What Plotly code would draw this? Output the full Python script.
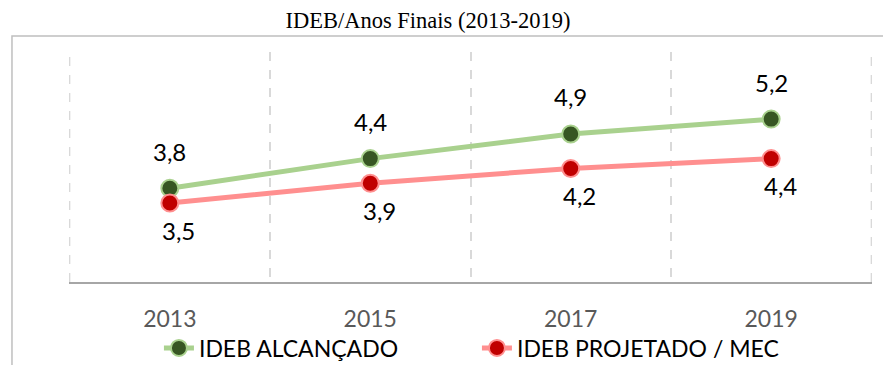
import plotly.graph_objects as go

# IDEB, anos finais: valores alcançados x metas projetadas pelo MEC
anos = ["2013", "2015", "2017", "2019"]
ideb_alcancado = [3.8, 4.4, 4.9, 5.2]
ideb_projetado = [3.5, 3.9, 4.2, 4.4]
serie_alcancado = "IDEB ALCANÇADO"
serie_projetado = "IDEB PROJETADO / MEC"
titulo = "IDEB/Anos Finais (2013-2019)"

VERDE_LINHA = "#a9d18e"
VERDE_MARCA = "#375623"
VERMELHO_LINHA = "#ff8f8f"
VERMELHO_MARCA = "#c00000"
GRADE = "#d9d9d9"
FONTE = "Lato"


def rotulo(v):
    return f"{v:.1f}".replace(".", ",")


fig = go.Figure()

fig.add_trace(go.Scatter(
    x=anos, y=ideb_alcancado, name=serie_alcancado, mode="lines+markers",
    line=dict(color=VERDE_LINHA, width=5),
    marker=dict(size=17, color=VERDE_MARCA, line=dict(color=VERDE_LINHA, width=2)),
    hoverinfo="x+y",
))
fig.add_trace(go.Scatter(
    x=anos, y=ideb_projetado, name=serie_projetado, mode="lines+markers",
    line=dict(color=VERMELHO_LINHA, width=5),
    marker=dict(size=17, color=VERMELHO_MARCA, line=dict(color=VERMELHO_LINHA, width=2)),
    hoverinfo="x+y",
))

# rótulos de valor: alcançado acima do ponto, projetado abaixo
# (x pela posição da categoria, pois os anos parecem números)
for i, v in enumerate(ideb_alcancado):
    fig.add_annotation(x=i, y=v, xref="x", yref="y", text=rotulo(v), showarrow=False,
                       yshift=37, font=dict(family=FONTE, size=24, color="#000000"))
for i, v in enumerate(ideb_projetado):
    fig.add_annotation(x=i, y=v, xref="x", yref="y", text=rotulo(v), showarrow=False,
                       yshift=-27, xshift=9, font=dict(family=FONTE, size=24, color="#000000"))

# linhas de grade nas bordas externas das categorias
n = len(anos)
for borda in (-0.5, n - 0.5):
    fig.add_shape(type="line", xref="x", yref="paper", x0=borda, x1=borda, y0=0, y1=1,
                  line=dict(color=GRADE, width=1.5, dash="dash"), layer="below")

# moldura da área do gráfico (aberta à direita e embaixo)
fig.add_shape(type="rect", xref="paper", yref="paper",
              x0=-0.071, x1=1.3, y0=-1.0, y1=1.0696,
              line=dict(color="#bfbfbf", width=1.5), fillcolor="rgba(0,0,0,0)",
              layer="below")

fig.update_layout(
    width=883, height=365,
    margin=dict(l=69, r=11, t=52, b=83, autoexpand=False),
    paper_bgcolor="white", plot_bgcolor="white",
    title=dict(text=titulo, x=0.4847, xanchor="center", y=0.945, yanchor="middle",
               xref="container", yref="container",
               font=dict(family="Liberation Serif", size=22.5, color="#000000")),
    showlegend=True,
    legend=dict(orientation="h", xref="container", yref="container",
                x=0.180, xanchor="left", y=0.0466, yanchor="middle",
                font=dict(family=FONTE, size=23, color="#000000"),
                entrywidth=273, entrywidthmode="pixels",
                bgcolor="rgba(0,0,0,0)", itemclick=False),
    xaxis=dict(
        type="category", categoryorder="array", categoryarray=anos,
        tickson="boundaries", showgrid=True, griddash="dash",
        gridcolor=GRADE, gridwidth=1.5,
        showline=True, linecolor="#a6a6a6", linewidth=1.5,
        ticks="", ticklabelstandoff=16,
        tickfont=dict(family=FONTE, size=23, color="#595959"),
        range=[-0.503, 3.503], fixedrange=True,
    ),
    yaxis=dict(range=[1.9, 6.56], showgrid=False, zeroline=False,
               showticklabels=False, showline=False, fixedrange=True),
)

fig.write_html("out.html")
